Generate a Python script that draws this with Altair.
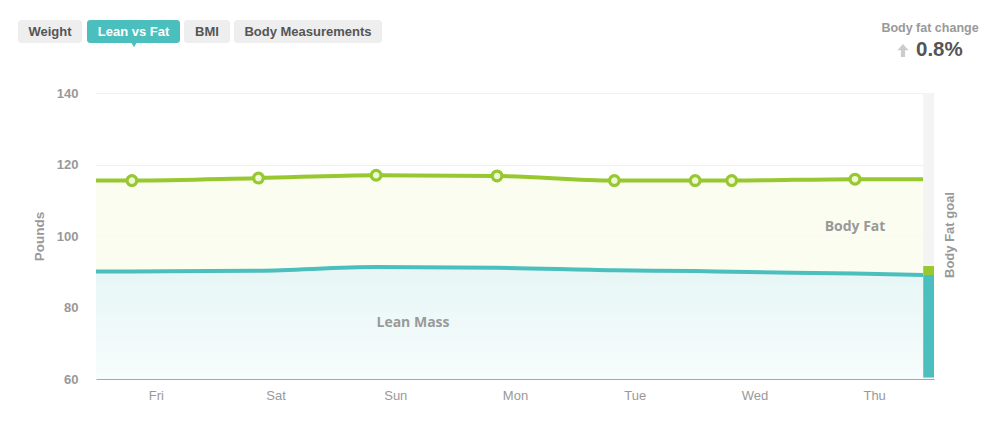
import altair as alt
import pandas as pd

# ---- data (x in days since Fri 00:00) ----
day_names = ["Fri", "Sat", "Sun", "Mon", "Tue", "Wed", "Thu"]
day_ticks = [0.5, 1.5, 2.5, 3.5, 4.5, 5.5, 6.5]

line_x = [0.0, 0.30, 1.357, 2.34, 3.35, 4.33, 5.005, 5.31, 6.34, 6.91]
fat_total = [115.5, 115.5, 116.2, 117.0, 116.8, 115.5, 115.5, 115.5, 115.9, 115.9]
lean_mass = [90.1, 90.1, 90.3, 91.3, 91.1, 90.4, 90.2, 90.0, 89.5, 89.1]
has_point = [False, True, True, True, True, True, True, True, True, False]

goal_x0, goal_x1 = 6.91, 7.0
goal_lean = 89.1
goal_fat = 91.6
goal_base = 60.4

buttons = ["Weight", "Lean vs Fat", "BMI", "Body Measurements"]
active_button = "Lean vs Fat"
change_title = "Body fat change"
change_value = "0.8%"

GREEN = "#97c82f"
TEAL = "#4bbfbd"
GREY_TXT = "#999999"

df = pd.DataFrame({"x": line_x, "fat": fat_total, "lean": lean_mass, "pt": has_point})
df["base"] = 60

W, H = 838, 286
PAD_L, PAD_T = 96, 93

xs = alt.X("x:Q", scale=alt.Scale(domain=[0, 7], nice=False, zero=False),
           axis=alt.Axis(values=day_ticks,
                         labelExpr="['" + "','".join(day_names) + "'][floor(datum.value)]",
                         title=None, grid=False, ticks=False, domainColor="#a8a8a8",
                         labelColor=GREY_TXT, labelFontSize=13, labelFont="Liberation Sans",
                         labelPadding=10))
ys_axis = alt.Axis(values=[60, 80, 100, 120, 140], title="Pounds", grid=True, gridColor="#efefef",
                   domain=False, ticks=False, labelColor=GREY_TXT, labelFontSize=13,
                   labelFontWeight="bold", labelFont="Liberation Sans", labelPadding=18,
                   titleColor=GREY_TXT, titleFontSize=13.5, titleFont="Liberation Sans",
                   titleFontWeight="bold", titlePadding=10)
yscale = alt.Scale(domain=[60, 140], nice=False, zero=False)

base = alt.Chart(df)

fat_area = base.mark_area(interpolate="monotone", color="#fafdee", opacity=0.85).encode(
    x=xs, y=alt.Y("fat:Q", scale=yscale, axis=ys_axis), y2="lean:Q")

lean_area = base.mark_area(
    interpolate="monotone",
    color=alt.Gradient(gradient="linear",
                       stops=[alt.GradientStop(color="#e6f6f5", offset=0),
                              alt.GradientStop(color="#f7fcfc", offset=1)],
                       x1=1, x2=1, y1=0, y2=1)).encode(
    x="x:Q", y=alt.Y("lean:Q", scale=yscale), y2="base:Q")

lean_line = base.mark_line(interpolate="monotone", color=TEAL, strokeWidth=4).encode(
    x="x:Q", y=alt.Y("lean:Q", scale=yscale))
fat_line = base.mark_line(interpolate="monotone", color=GREEN, strokeWidth=4).encode(
    x="x:Q", y=alt.Y("fat:Q", scale=yscale))
fat_pts = base.transform_filter("datum.pt").mark_point(
    shape="circle", size=95, filled=True, fill="#eef8d6", stroke=GREEN, strokeWidth=3.2, opacity=1).encode(
    x="x:Q", y=alt.Y("fat:Q", scale=yscale))

goal_df = pd.DataFrame({
    "x0": [goal_x0] * 3, "x1": [goal_x1] * 3,
    "y0": [60, goal_lean, goal_base], "y1": [140, goal_fat, goal_lean],
    "part": ["bg", "fat", "lean"]})
goal = alt.Chart(goal_df).mark_rect().encode(
    x="x0:Q", x2="x1:Q", y=alt.Y("y0:Q", scale=yscale), y2="y1:Q",
    color=alt.Color("part:N", scale=alt.Scale(domain=["bg", "fat", "lean"],
                                              range=["#f4f4f4", GREEN, TEAL]), legend=None))


def txt(s, px, py, size=12, color=GREY_TXT, weight="bold", align="center", angle=0, font="Liberation Sans"):
    kw = dict(fontSize=size, color=color, fontWeight=weight, align=align, baseline="middle", font=font)
    if angle:
        kw["angle"] = angle
    return alt.Chart(pd.DataFrame({"t": [s]})).mark_text(**kw).encode(
        x=alt.value(px - PAD_L), y=alt.value(py - PAD_T), text="t:N")


def rect(x0, x1, y0, y1, color, r=3):
    return alt.Chart(pd.DataFrame({"a": [0]})).mark_rect(color=color, cornerRadius=r).encode(
        x=alt.value(x0 - PAD_L), x2=alt.value(x1 - PAD_L), y=alt.value(y0 - PAD_T), y2=alt.value(y1 - PAD_T))


layers = [lean_area, fat_area, lean_line, fat_line, fat_pts, goal]

# annotations
layers.append(txt("Body Fat", 855, 227, size=14, font="Open Sans"))
layers.append(txt("Lean Mass", 413, 323, size=14, font="Open Sans"))
layers.append(txt("Body Fat goal", 950, 235, size=13, angle=270))

# header buttons
btn_pos = [(18, 82), (87, 180), (184, 230), (234, 382)]
for name, (bx0, bx1) in zip(buttons, btn_pos):
    active = name == active_button
    layers.append(rect(bx0, bx1, 20, 43, TEAL if active else "#eeeeee"))
    layers.append(txt(name, (bx0 + bx1) / 2, 32, size=13,
                      color="#ffffff" if active else "#555555"))
layers.append(alt.Chart(pd.DataFrame({"a": [0]})).mark_point(
    shape="triangle-down", filled=True, color=TEAL, size=40, opacity=1).encode(
    x=alt.value(134 - PAD_L), y=alt.value(44.5 - PAD_T)))

# body fat change
layers.append(txt(change_title, 930, 28, size=12.5))
layers.append(alt.Chart(pd.DataFrame({"a": [0]})).mark_point(
    shape="M0,-1L0.85,-0.05L0.32,-0.05L0.32,1L-0.32,1L-0.32,-0.05L-0.85,-0.05Z",
    filled=True, color="#cccccc", size=170, opacity=1).encode(
    x=alt.value(903 - PAD_L), y=alt.value(50.5 - PAD_T)))
layers.append(txt(change_value, 916, 50, size=20.5, color="#555555", align="left"))

chart = alt.layer(*layers).properties(
    width=W, height=H,
    padding={"left": PAD_L, "top": PAD_T, "right": 999 - PAD_L - W, "bottom": 428 - PAD_T - H},
    autosize=alt.AutoSizeParams(type="none"),
    background="#ffffff",
).configure_view(stroke=None)

chart.save("out.html", embed_options={"renderer": "svg", "actions": False})
